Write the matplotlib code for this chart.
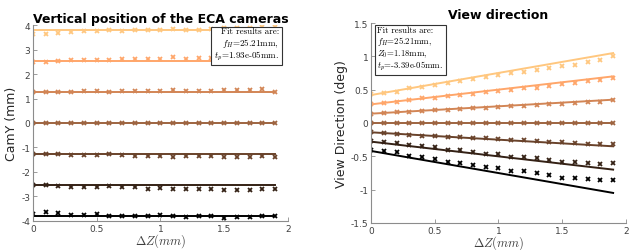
import numpy as np
import matplotlib
matplotlib.use("Agg")
import matplotlib.pyplot as plt
from matplotlib.ticker import FuncFormatter

plt.rcParams['axes.unicode_minus'] = False
plt.rcParams['mathtext.fontset'] = 'cm'

# shift of the camera along Z (mm)
dz = [0.0, 0.1, 0.2, 0.3, 0.4, 0.5, 0.6, 0.7, 0.8, 0.9,
      1.0, 1.1, 1.2, 1.3, 1.4, 1.5, 1.6, 1.7, 1.8, 1.9]
fit_x = [0.0, 1.9]

# vertical position, measured (top camera first)
camy = [
    [3.65, 3.65, 3.69, 3.73, 3.74, 3.77, 3.79, 3.75, 3.79, 3.81,
     3.81, 3.85, 3.81, 3.81, 3.85, 3.89, 3.89, 3.89, 3.91, 3.91],
    [2.49, 2.50, 2.52, 2.56, 2.57, 2.58, 2.58, 2.60, 2.61, 2.63,
     2.63, 2.69, 2.63, 2.66, 2.65, 2.66, 2.66, 2.67, 2.67, 2.68],
    [1.26, 1.25, 1.26, 1.27, 1.30, 1.30, 1.26, 1.30, 1.32, 1.32,
     1.30, 1.34, 1.32, 1.32, 1.32, 1.35, 1.35, 1.35, 1.38, 1.27],
    [0.0, 0.0, 0.0, 0.0, 0.0, 0.0, 0.0, 0.0, 0.0, 0.0,
     0.0, 0.0, 0.0, 0.0, 0.0, 0.0, 0.0, 0.0, 0.0, 0.0],
    [-1.27, -1.27, -1.28, -1.30, -1.30, -1.31, -1.28, -1.32, -1.35, -1.35,
     -1.33, -1.38, -1.35, -1.35, -1.36, -1.38, -1.40, -1.40, -1.35, -1.38],
    [-2.53, -2.52, -2.56, -2.60, -2.61, -2.60, -2.57, -2.63, -2.63, -2.68,
     -2.65, -2.71, -2.69, -2.69, -2.69, -2.73, -2.73, -2.73, -2.68, -2.71],
    [-3.73, -3.65, -3.69, -3.75, -3.76, -3.72, -3.79, -3.81, -3.80, -3.80,
     -3.76, -3.81, -3.84, -3.81, -3.81, -3.89, -3.84, -3.84, -3.79, -3.80],
]
# fitted vertical position (value at dz=0 and dz=1.9)
camy_fit = [[3.8, 3.8], [2.53, 2.53], [1.27, 1.27], [0.0, 0.0],
            [-1.27, -1.27], [-2.53, -2.53], [-3.8, -3.8]]

# view direction, measured (deg)
view = [
    [0.43, 0.45, 0.47, 0.52, 0.54, 0.57, 0.60, 0.63, 0.66, 0.69,
     0.72, 0.75, 0.77, 0.79, 0.82, 0.85, 0.87, 0.91, 0.95, 1.00],
    [0.28, 0.30, 0.32, 0.35, 0.37, 0.38, 0.40, 0.42, 0.44, 0.46,
     0.48, 0.50, 0.52, 0.53, 0.56, 0.58, 0.60, 0.63, 0.65, 0.68],
    [0.14, 0.15, 0.16, 0.17, 0.18, 0.19, 0.20, 0.21, 0.22, 0.23,
     0.24, 0.25, 0.26, 0.27, 0.28, 0.29, 0.30, 0.31, 0.32, 0.34],
    [0.0, 0.0, 0.0, 0.0, 0.0, 0.0, 0.0, 0.0, 0.0, 0.0,
     0.0, 0.0, 0.0, 0.0, 0.0, 0.0, 0.0, 0.0, 0.0, 0.0],
    [-0.14, -0.15, -0.16, -0.18, -0.19, -0.19, -0.21, -0.21, -0.22, -0.23,
     -0.24, -0.25, -0.26, -0.27, -0.28, -0.29, -0.30, -0.31, -0.31, -0.32],
    [-0.275, -0.29, -0.305, -0.33, -0.345, -0.365, -0.40, -0.405, -0.44, -0.465,
     -0.47, -0.505, -0.515, -0.53, -0.55, -0.585, -0.59, -0.60, -0.615, -0.60],
    [-0.40, -0.415, -0.44, -0.50, -0.515, -0.54, -0.58, -0.595, -0.625, -0.655,
     -0.67, -0.715, -0.725, -0.75, -0.775, -0.82, -0.83, -0.84, -0.85, -0.855],
]
view_fit = [[0.42, 1.05], [0.28, 0.70], [0.14, 0.35], [0.0, 0.0],
            [-0.14, -0.35], [-0.28, -0.70], [-0.42, -1.05]]

box_left = "Fit results are:\n$f_H$=25.21mm,\n$t_p$=1.93e-05mm."
box_right = "Fit results are:\n$f_H$=25.21mm,\n$Z_0$=1.18mm,\n$t_p$=-3.39e-05mm."

n = len(camy)
colors = [plt.cm.copper(1 - i / (n - 1)) for i in range(n)]

fig = plt.figure(figsize=(6.29, 2.51), dpi=100)
ax1 = fig.add_axes([0.0525, 0.116, 0.405, 0.780])
ax2 = fig.add_axes([0.590, 0.108, 0.405, 0.796])

fmt = FuncFormatter(lambda v, p: ('%g' % v))


def style(ax):
    for s in ['top', 'right']:
        ax.spines[s].set_visible(False)
    for s in ['left', 'bottom']:
        ax.spines[s].set_color('#8c8c8c')
        ax.spines[s].set_linewidth(0.8)
    ax.tick_params(direction='in', length=3, width=0.6, color='#8c8c8c',
                   labelsize=6.5, labelcolor='#404040', pad=2)
    ax.set_xlim(0, 2)
    ax.set_xticks([0, 0.5, 1, 1.5, 2])
    ax.xaxis.set_major_formatter(fmt)
    ax.yaxis.set_major_formatter(fmt)
    ax.set_xlabel(r'$\Delta Z(mm)$', fontsize=9, color='#404040', labelpad=-1)


for i in range(n):
    ax1.plot(fit_x, camy_fit[i], '-', color=colors[i], lw=1.4)
    ax1.plot(dz, camy[i], 'x', color=colors[i], ms=3.2, mew=1.3)
    ax2.plot(fit_x, view_fit[i], '-', color=colors[i], lw=1.4)
    ax2.plot(dz, view[i], 'x', color=colors[i], ms=3.2, mew=1.3)

box_style = dict(boxstyle='square,pad=0.3', fc='white', ec='#333333', lw=0.8)

style(ax1)
ax1.set_ylim(-4, 4)
ax1.set_yticks(range(-4, 5))
ax1.set_ylabel('CamY (mm)', fontsize=9, color='#262626', labelpad=2)
ax1.set_title('Vertical position of the ECA cameras', fontsize=9,
              fontweight='bold', pad=2)
ax1.text(0.965, 0.99, box_left, transform=ax1.transAxes, ha='right', va='top',
         fontsize=6.5, family='cmr10', linespacing=1.05, bbox=box_style)

style(ax2)
ax2.set_ylim(-1.5, 1.5)
ax2.set_yticks([-1.5, -1, -0.5, 0, 0.5, 1, 1.5])
ax2.set_ylabel('View Direction (deg)', fontsize=9, color='#262626', labelpad=2)
ax2.set_title('View direction', fontsize=9, fontweight='bold', pad=4)
ax2.text(0.025, 0.99, box_right, transform=ax2.transAxes, ha='left', va='top',
         fontsize=6.3, family='cmr10', linespacing=1.05, bbox=box_style)

fig.savefig('out.png', dpi=100)
